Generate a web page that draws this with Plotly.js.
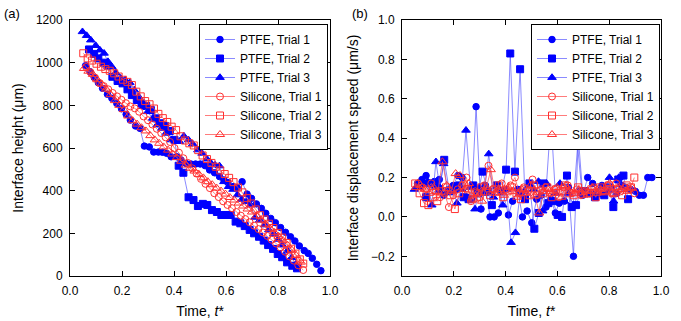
<!DOCTYPE html>
<html>
<head>
<meta charset="utf-8">
<script src="https://cdn.plot.ly/plotly-3.0.1.min.js"></script>
<style>html,body{margin:0;padding:0;background:#fff;}#chart{width:681px;height:321px;}</style>
</head>
<body>
<div id="chart"></div>
<script>
// ---------- Data ----------
const seriesNames = ["PTFE, Trial 1","PTFE, Trial 2","PTFE, Trial 3","Silicone, Trial 1","Silicone, Trial 2","Silicone, Trial 3"];

// PTFE, Trial 1
const tP1 = [0.060,0.077,0.093,0.109,0.125,0.144,0.161,0.180,0.198,0.216,0.232,0.252,0.269,0.286,0.305,0.322,0.340,0.356,0.372,0.389,0.411,0.427,0.447,0.465,0.483,0.501,0.520,0.537,0.556,0.575,0.592,0.607,0.627,0.643,0.662,0.681,0.698,0.717,0.736,0.753,0.772,0.790,0.810,0.829,0.848,0.865,0.882,0.901,0.916,0.932,0.949,0.965];
const hP1 = [986,958,931,906,880,852,833,809,784,758,731,703,692,609,605,581,581,580,575,559,559,544,527,525,525,525,517,497,484,466,450,438,419,414,442,384,364,338,317,294,270,250,227,205,184,164,141,119,106,83,55,25];
const vP1 = [0.17,0.19,0.21,0.17,0.18,0.19,0.11,0.14,0.16,0.21,0.20,0.10,0.09,0.56,0.04,0.16,0.00,0.00,0.02,0.13,0.01,0.08,0.14,0.00,0.03,-0.03,0.09,0.11,0.05,0.09,0.02,0.07,0.08,0.15,-0.20,0.40,0.11,0.20,0.17,0.12,0.16,0.14,0.14,0.12,0.16,0.15,0.14,0.13,0.11,0.11,0.20,0.20];

// PTFE, Trial 2
const tP2 = [0.073,0.093,0.109,0.129,0.144,0.163,0.183,0.202,0.221,0.238,0.257,0.275,0.293,0.311,0.331,0.347,0.366,0.384,0.402,0.418,0.436,0.456,0.475,0.492,0.511,0.528,0.546,0.565,0.582,0.601,0.618,0.637,0.655,0.672,0.691,0.708,0.727,0.745,0.762,0.781,0.799,0.816,0.835,0.855,0.873];
const hP2 = [1062,1041,1020,1000,986,934,914,903,875,848,825,809,797,778,739,716,703,680,638,517,484,369,356,328,338,333,309,300,286,286,286,255,247,234,216,200,184,166,145,127,103,88,64,48,36];
const vP2 = [0.17,0.10,0.17,0.16,0.14,0.29,0.13,0.14,0.16,0.10,0.09,0.16,0.12,0.23,0.13,0.06,0.16,0.13,0.24,0.83,0.23,0.75,0.09,0.17,-0.06,0.02,0.17,0.07,0.08,0.01,0.00,0.21,0.05,0.06,0.13,0.13,0.12,0.10,0.12,0.11,0.15,0.05,0.19,0.21,0.09];

// PTFE, Trial 3
const tP3 = [0.048,0.064,0.080,0.099,0.115,0.131,0.146,0.161,0.176,0.195,0.212,0.230,0.247,0.264,0.282,0.299,0.318,0.335,0.353,0.369,0.389,0.404,0.421,0.438,0.456,0.472,0.492,0.508,0.527,0.543,0.558,0.575,0.592,0.610,0.627,0.644,0.661,0.678,0.695,0.712,0.730,0.749,0.765,0.784,0.801,0.817,0.837,0.852,0.868];
const hP3 = [1145,1127,1106,1080,1059,1044,1005,981,953,927,919,906,872,841,794,770,739,708,692,669,638,634,630,656,638,619,591,575,548,528,520,516,442,419,406,380,359,348,333,275,262,239,216,197,172,145,119,86,55];
const vP3 = [0.14,0.15,0.17,0.18,0.06,0.28,0.15,0.27,0.13,0.15,0.07,0.14,0.44,0.15,0.04,0.15,0.12,0.32,0.10,0.14,0.06,0.14,-0.13,-0.08,0.12,0.13,0.16,0.14,0.18,0.03,0.17,0.50,0.12,0.17,0.08,0.12,0.06,0.36,0.12,0.13,0.12,0.12,0.14,0.13,0.20,0.08,0.20,0.15,0.14];

// Silicone, Trial 1
const tS1 = [0.062,0.079,0.096,0.113,0.130,0.147,0.164,0.181,0.198,0.215,0.232,0.249,0.266,0.283,0.300,0.317,0.334,0.351,0.368,0.385,0.402,0.419,0.436,0.453,0.470,0.487,0.504,0.521,0.538,0.555,0.572,0.589,0.606,0.623,0.640,0.657,0.674,0.691,0.708,0.725,0.742,0.759,0.776,0.793,0.810,0.827,0.844,0.861,0.878,0.897];
const hS1 = [980,955,930,905,890,875,858,842,826,810,795,786,770,748,730,710,690,670,650,628,600,578,552,530,505,480,455,432,412,388,370,350,333,318,300,283,267,252,236,220,204,188,170,152,134,114,92,72,50,28];
const vS1 = [0.17,0.15,0.14,0.17,0.13,0.10,0.12,0.05,0.11,0.14,0.16,0.20,0.08,0.13,0.10,0.16,0.26,0.14,0.13,0.17,0.14,0.16,0.20,0.12,0.15,0.13,0.19,0.11,0.14,0.15,0.12,0.14,0.10,0.15,0.16,0.12,0.14,0.11,0.13,0.12,0.15,0.14,0.13,0.16,0.12,0.17,0.13,0.15,0.14,0.12];

// Silicone, Trial 2
const tS2 = [0.051,0.068,0.085,0.102,0.119,0.136,0.153,0.170,0.187,0.204,0.221,0.238,0.255,0.272,0.289,0.306,0.323,0.340,0.357,0.374,0.391,0.408,0.425,0.442,0.459,0.476,0.493,0.510,0.527,0.544,0.561,0.578,0.595,0.612,0.629,0.646,0.663,0.680,0.697,0.714,0.731,0.748,0.765,0.782,0.799,0.816,0.833,0.850,0.867,0.884,0.897];
const hS2 = [1044,1020,1010,995,981,970,962,950,935,920,910,895,864,842,820,805,785,760,740,722,700,684,655,635,622,612,590,565,548,530,512,495,478,460,440,415,392,365,340,312,285,265,245,225,202,180,155,128,105,78,58];
const vS2 = [0.17,0.12,0.07,0.06,0.10,0.08,0.13,0.15,0.11,0.04,0.12,0.16,0.14,0.09,0.12,0.15,0.13,0.11,0.14,0.16,0.10,0.13,0.15,0.12,0.09,0.14,0.11,0.16,0.13,0.12,0.15,0.10,0.14,0.13,0.16,0.12,0.11,0.15,0.13,0.12,0.14,0.10,0.15,0.13,0.16,0.12,0.14,0.11,0.16,0.15,0.20];

// Silicone, Trial 3
const tS3 = [0.054,0.071,0.088,0.105,0.122,0.139,0.156,0.173,0.190,0.207,0.224,0.241,0.258,0.275,0.292,0.309,0.326,0.343,0.360,0.377,0.394,0.411,0.428,0.445,0.462,0.479,0.496,0.513,0.530,0.547,0.564,0.581,0.598,0.615,0.632,0.649,0.666,0.683,0.700,0.717,0.734,0.751,0.768,0.785,0.802,0.819,0.836,0.853,0.870,0.888];
const hS3 = [973,960,945,920,900,876,850,822,800,780,750,728,712,695,680,658,638,622,605,590,572,555,538,520,505,492,476,460,442,428,412,398,384,368,356,342,328,314,300,282,262,243,224,205,186,167,145,122,96,65];
const vS3 = [0.15,0.16,0.14,0.12,0.15,0.13,0.28,0.16,0.13,0.22,0.21,0.14,0.17,0.09,0.12,0.08,0.15,0.24,0.12,0.14,0.11,0.15,0.13,0.10,0.14,0.12,0.16,0.11,0.02,0.13,0.14,0.12,0.15,0.10,0.16,0.13,0.12,0.14,0.11,0.13,0.15,0.12,0.14,0.13,0.17,0.12,0.15,0.14,0.13,0.15];

const heightTicks = [0,200,400,600,800,1000,1200];
const speedTicks = [-0.2,0.0,0.2,0.4,0.6,0.8,1.0];
const timeTicks = [0.0,0.2,0.4,0.6,0.8,1.0];

// ---------- Styles ----------
const times = [tP1,tP2,tP3,tS1,tS2,tS3];
const heights = [hP1,hP2,hP3,hS1,hS2,hS3];
const speeds = [vP1,vP2,vP3,vS1,vS2,vS3];
const symbols = ["circle","square","triangle-up","circle-open","square-open","triangle-up-open"];
const msizes = [6.5,7,7.5,7,7,8];
const blue = "#0000ff", blueLine = "rgba(60,60,255,0.6)";
const red = "#ff3030", redLine = "rgba(255,80,80,0.75)";

const traces = [];
for (let i = 0; i < 6; i++) {
  const isP = i < 3;
  const mk = {symbol: symbols[i], size: msizes[i], color: isP ? blue : red, line: {width: 1, color: isP ? blue : red}};
  const ln = {width: 1, color: isP ? blueLine : redLine};
  traces.push({x: times[i], y: heights[i], type: "scatter", mode: "lines+markers", name: seriesNames[i],
    marker: mk, line: ln, xaxis: "x", yaxis: "y", legend: "legend"});
  traces.push({x: times[i], y: speeds[i], type: "scatter", mode: "lines+markers", name: seriesNames[i],
    marker: mk, line: ln, xaxis: "x2", yaxis: "y2", legend: "legend2"});
}

const font = {family: "Liberation Sans, Arial, sans-serif", size: 12, color: "#000"};
function ax(extra) {
  return Object.assign({
    showline: true, linecolor: "#000", linewidth: 1, mirror: "allticks",
    ticks: "inside", ticklen: 5, tickcolor: "#000", tickwidth: 1, ticklabelstandoff: 4,
    showgrid: false, zeroline: false, tickfont: {family: font.family, size: 12, color: "#000"}
  }, extra);
}
const tfont = {family: font.family, size: 14, color: "#000"};

const yTop = 1 - 20/321, yBot = 1 - 276/321;
const layout = {
  width: 681, height: 321,
  margin: {l: 0, r: 0, t: 0, b: 0},
  paper_bgcolor: "#fff", plot_bgcolor: "#fff",
  font: font,
  showlegend: true,
  xaxis: ax({domain: [70/681, 330/681], range: [0, 1], tickvals: timeTicks, tickformat: ".1f", anchor: "y",
    title: {text: "Time, <i>t</i>*", font: tfont, standoff: 8}}),
  yaxis: ax({domain: [yBot, yTop], range: [0, 1200], tickvals: heightTicks, anchor: "x",
    title: {text: "Interface height (μm)", font: tfont, standoff: 8}}),
  xaxis2: ax({domain: [402/681, 661/681], range: [0, 1], tickvals: timeTicks, tickformat: ".1f", anchor: "y2",
    title: {text: "Time, <i>t</i>*", font: tfont, standoff: 8}}),
  yaxis2: ax({domain: [yBot, yTop], range: [-0.3, 1.0], tickvals: speedTicks, tickformat: ".1f", anchor: "x2",
    title: {text: "Interface displacement speed (μm/s)", font: tfont, standoff: 8}}),
  legend: {x: 199/681, y: 1 - 24/321, xanchor: "left", yanchor: "top", bgcolor: "#fff",
    bordercolor: "#000", borderwidth: 1, font: {family: font.family, size: 12, color: "#000"}, tracegroupgap: 0, itemwidth: 30},
  legend2: {x: 531/681, y: 1 - 24/321, xanchor: "left", yanchor: "top", bgcolor: "#fff",
    bordercolor: "#000", borderwidth: 1, font: {family: font.family, size: 12, color: "#000"}, tracegroupgap: 0, itemwidth: 30},
  annotations: [
    {text: "(a)", xref: "paper", yref: "paper", x: 2/681, y: 1 - 4/321, xanchor: "left", yanchor: "top", showarrow: false,
     font: {family: font.family, size: 13, color: "#000"}},
    {text: "(b)", xref: "paper", yref: "paper", x: 350/681, y: 1 - 4/321, xanchor: "left", yanchor: "top", showarrow: false,
     font: {family: font.family, size: 13, color: "#000"}}
  ]
};

Plotly.newPlot("chart", traces, layout, {staticPlot: true, displayModeBar: false});
</script>
</body>
</html>
